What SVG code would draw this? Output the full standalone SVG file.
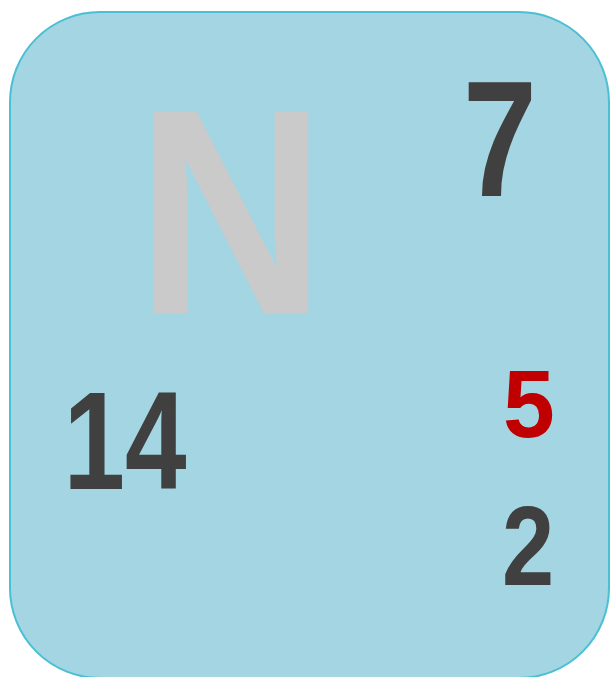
<svg xmlns="http://www.w3.org/2000/svg" width="611" height="677" viewBox="0 0 611 677">
<style>
.t{font-family:"Liberation Sans",Arial,sans-serif;font-weight:bold;text-anchor:middle}
.d{fill:#404040}
</style>
<g id="card">
<rect x="10" y="12" width="599" height="666" rx="90" ry="90" fill="#a3d5e2" stroke="#4bbfd4" stroke-width="2"/>
</g>
<g id="symbol"><text class="t" transform="translate(231,313) scale(0.9,1)" x="0" y="0" font-size="292" fill="#cacaca">N</text></g>
<g id="atomic-number"><text class="t d" transform="translate(500,196) scale(0.8,1)" x="0" y="0" font-size="166">7</text></g>
<g id="mass"><text class="t d" transform="translate(125,489) scale(0.79,1)" x="0" y="0" font-size="140">14</text></g>
<g id="valence"><text class="t" transform="translate(529,437) scale(0.97,1)" x="0" y="0" font-size="96" fill="#c00000">5</text></g>
<g id="period"><text class="t d" transform="translate(528,585) scale(0.83,1)" x="0" y="0" font-size="113">2</text></g>
</svg>
